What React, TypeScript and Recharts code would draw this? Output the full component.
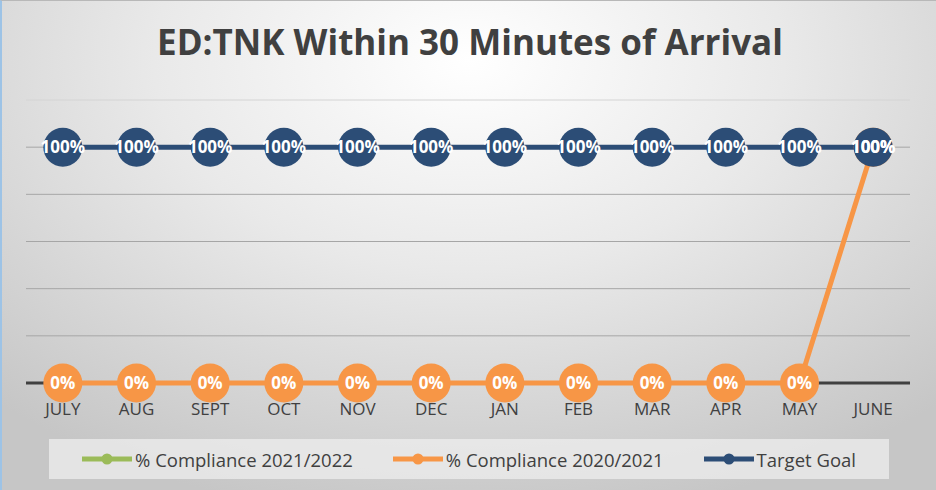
import { CartesianGrid, LabelList, Line, LineChart, XAxis, YAxis } from "recharts";

const months = ["JULY", "AUG", "SEPT", "OCT", "NOV", "DEC", "JAN", "FEB", "MAR", "APR", "MAY", "JUNE"];
const compliance2122: (number | null)[] = [null, null, null, null, null, null, null, null, null, null, null, null];
const compliance2021 = [0, 0, 0, 0, 0, 0, 0, 0, 0, 0, 0, 1];
const targetGoal = [1, 1, 1, 1, 1, 1, 1, 1, 1, 1, 1, 1];
const yTicks = [0, 0.2, 0.4, 0.6, 0.8, 1, 1.2];

const SERIES = [
  { key: "c2122", name: "% Compliance 2021/2022", color: "#9bbb59" },
  { key: "c2021", name: "% Compliance 2020/2021", color: "#f79646" },
  { key: "target", name: "Target Goal", color: "#2c4d76" },
];

const data = months.map((month, i) => ({
  month,
  c2122: compliance2122[i],
  c2021: compliance2021[i],
  target: targetGoal[i],
}));

const FONT = "'Open Sans', 'Noto Sans', sans-serif";
const TEXT = "#404040";

const pct = (v: unknown) => (v == null ? "" : `${Math.round(Number(v) * 100)}%`);

// grid line renderer: baseline dark and thick, top line faint, rest grey
function GridLine(props: any) {
  const { x1, x2, y1, y2, index } = props;
  const last = yTicks.length - 1;
  const stroke = index === 0 ? "#404040" : index === last ? "#d4d4d4" : "#a6a6a6";
  const width = index === 0 ? 3 : 1;
  return <line key={`g-${index}`} x1={x1} x2={x2} y1={y1} y2={y2} stroke={stroke} strokeWidth={width} />;
}

export default function App() {
  return (
    <div
      style={{
        position: "absolute",
        top: 0,
        left: 0,
        width: 936,
        height: 490,
        overflow: "hidden",
        boxSizing: "border-box",
        borderLeft: "2px solid #9dc3e6",
        borderTop: "1px solid #b8b8b8",
        background:
          "radial-gradient(ellipse 75% 95% at 50% 12%, #ffffff 0%, #e9e9e9 45%, #c6c6c6 100%)",
        fontFamily: FONT,
      }}
    >
      <div
        style={{
          position: "absolute",
          top: 17,
          left: 0,
          width: 936,
          textAlign: "center",
          fontSize: 35,
          fontWeight: 700,
          color: TEXT,
        }}
      >
        ED:TNK Within 30 Minutes of Arrival
      </div>
      <div style={{ position: "absolute", top: -1, left: -2 }}>
        <LineChart width={936} height={490} data={data} margin={{ top: 100, right: 26, bottom: 77, left: 26 }}>
          <CartesianGrid vertical={false} horizontal={GridLine} />
          <YAxis hide domain={[0, 1.2]} ticks={yTicks} />
          <XAxis
            dataKey="month"
            scale="band"
            height={30}
            axisLine={false}
            tickLine={false}
            tickSize={0}
            tickMargin={20}
            tick={{ fill: TEXT, fontSize: 17, fontFamily: FONT }}
          />
          {SERIES.map((s) => (
            <Line
              key={s.key}
              dataKey={s.key}
              name={s.name}
              stroke={s.color}
              strokeWidth={5}
              dot={{ r: 19.5, fill: s.color, stroke: s.color, strokeWidth: 0 }}
              activeDot={false}
              isAnimationActive={false}
            >
              <LabelList
                dataKey={s.key}
                position="center"
                formatter={pct}
                fill="#ffffff"
                fontSize={17}
                fontWeight={700}
                fontFamily={FONT}
              />
            </Line>
          ))}
        </LineChart>
      </div>
      <div
        style={{
          position: "absolute",
          left: 47,
          top: 438,
          width: 840,
          height: 40,
          background: "rgba(238,238,238,0.75)",
          display: "flex",
          alignItems: "center",
          justifyContent: "center",
          gap: 40,
          fontSize: 18.5,
          color: TEXT,
        }}
      >
        {SERIES.map((s) => (
          <div key={s.key} style={{ display: "flex", alignItems: "center", gap: 3 }}>
            <svg width={50} height={14}>
              <line x1={0} y1={7} x2={50} y2={7} stroke={s.color} strokeWidth={5} strokeLinecap="round" />
              <circle cx={25} cy={7} r={5.5} fill={s.color} />
            </svg>
            <span>{s.name}</span>
          </div>
        ))}
      </div>
    </div>
  );
}
